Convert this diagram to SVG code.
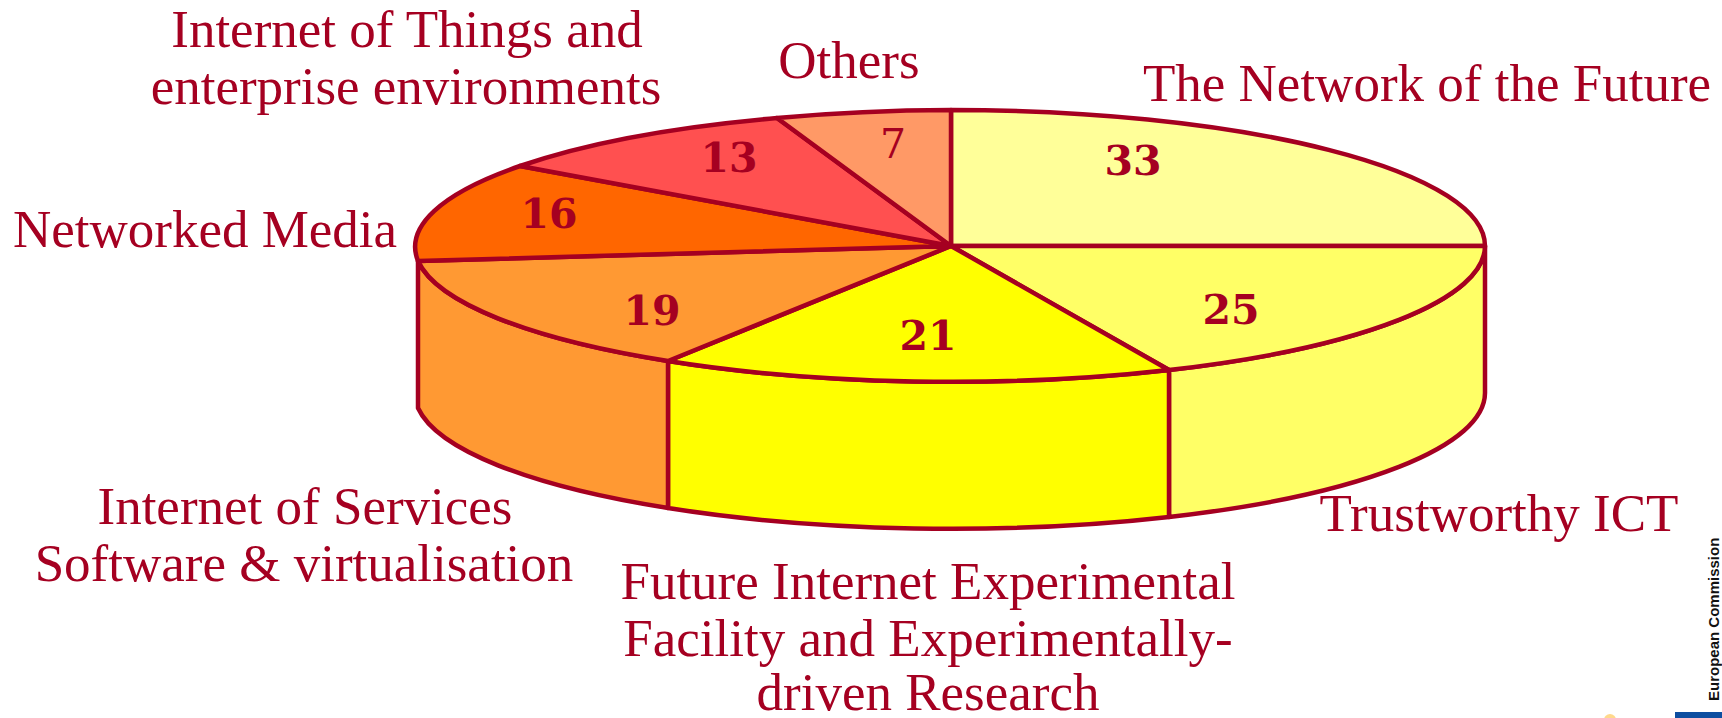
<svg xmlns="http://www.w3.org/2000/svg" width="1722" height="718" viewBox="0 0 1722 718">
<style>
.edge{stroke:#A50021;stroke-width:4.5;stroke-linejoin:round;stroke-linecap:round}
.lbl{font-family:"Liberation Serif","Times New Roman",serif;font-size:53px;fill:#A50021;text-anchor:middle}
.num{font-family:"DejaVu Serif","Liberation Serif",serif;font-size:41px;font-weight:bold;fill:#A50021;text-anchor:middle}
</style>
<rect width="1722" height="718" fill="#FFFFFF"/>
<g id="slice-network-future">
<path class="edge" fill="#FFFF99" d="M951,246 L951,110 A534,136 0 0 1 1485,246 Z"/>
<text class="num" x="1133" y="175">33</text>
<text class="lbl" x="1427" y="101">The Network of the Future</text>
</g>
<g id="slice-trustworthy">
<path class="edge" fill="#FFFF66" d="M1485,246 L1485,393 A534,136 0 0 1 1169,517 L1169,370 A534,136 0 0 0 1485,246 Z"/>
<path class="edge" fill="#FFFF66" d="M951,246 L1485,246 A534,136 0 0 1 1169,370 Z"/>
<text class="num" x="1231" y="324">25</text>
<text class="lbl" x="1499" y="531">Trustworthy ICT</text>
</g>
<g id="slice-fire">
<path class="edge" fill="#FFFF00" d="M1169,370 L1169,517 A534,136 0 0 1 668,508 L668,361 A534,136 0 0 0 1169,370 Z"/>
<path class="edge" fill="#FFFF00" d="M951,246 L1169,370 A534,136 0 0 1 668,361 Z"/>
<text class="num" x="928" y="350">21</text>
<text class="lbl" x="928" y="599">Future Internet Experimental</text>
<text class="lbl" x="928" y="656">Facility and Experimentally-</text>
<text class="lbl" x="928" y="710">driven Research</text>
</g>
<g id="slice-services">
<path class="edge" fill="#FF9933" d="M668,361 L668,508 A534,136 0 0 1 418,408 L418,261 A534,136 0 0 0 668,361 Z"/>
<path class="edge" fill="#FF9933" d="M951,246 L668,361 A534,136 0 0 1 418,261 Z"/>
<text class="num" x="652" y="325">19</text>
<text class="lbl" x="305" y="524">Internet of Services</text>
<text class="lbl" x="304" y="581">Software &amp; virtualisation</text>
</g>
<g id="slice-media">
<path class="edge" fill="#FF6600" d="M951,246 L418,261 A534,136 0 0 1 520,166 Z"/>
<text class="num" x="549" y="228">16</text>
<text class="lbl" x="205" y="247">Networked Media</text>
</g>
<g id="slice-iot">
<path class="edge" fill="#FF5050" d="M951,246 L520,166 A534,136 0 0 1 777,118 Z"/>
<text class="num" x="729" y="172">13</text>
<text class="lbl" x="407" y="47">Internet of Things and</text>
<text class="lbl" x="406" y="104">enterprise environments</text>
</g>
<g id="slice-others">
<path class="edge" fill="#FF9966" d="M951,246 L777,118 A534,136 0 0 1 951,110 Z"/>
<text class="num" x="893" y="158" style="font-weight:normal">7</text>
<text class="lbl" x="849" y="78">Others</text>
</g>
<g id="connectors"></g>
<g id="footer">
<text transform="translate(1719,701) rotate(-90)" font-family="Liberation Sans, Arial, sans-serif" font-weight="bold" font-size="15" fill="#111111">European Commission</text>
<circle cx="1610" cy="720" r="6" fill="#FFD98C"/>
<rect x="1675" y="712" width="47" height="6" fill="#0D4EA0"/>
</g>
</svg>
